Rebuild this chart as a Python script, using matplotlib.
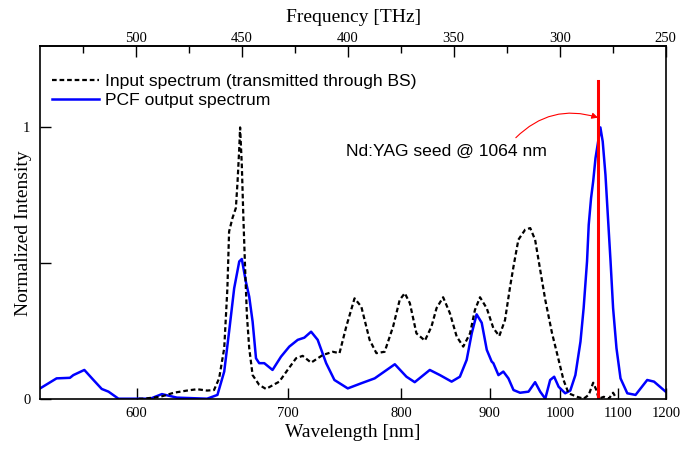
import numpy as np
import matplotlib
matplotlib.use("Agg")
import matplotlib.pyplot as plt

C_NM_THZ = 299792.458  # c in nm*THz

# PCF output spectrum (frequency THz, normalized intensity)
out_freq = [545.6, 537.4, 531.1, 529.5, 524.3, 520.0, 516.1, 512.9, 508.2, 493.2,
            487.7, 480.6, 466.4, 461.5, 458.3, 456.0, 453.6, 451.2, 450.0, 448.1,
            446.5, 444.9, 443.3, 441.8, 439.4, 435.5, 431.5, 427.6, 423.6, 420.5,
            417.3, 414.2, 410.2, 406.3, 400.0, 393.6, 387.3, 377.8, 372.3, 368.4,
            361.3, 356.5, 351.0, 347.1, 343.9, 341.5, 339.2, 336.8, 334.4, 332.1,
            331.3, 328.9, 326.6, 324.2, 321.8, 318.7, 314.7, 311.6, 309.2, 306.8,
            304.5, 302.6, 300.5, 297.4, 295.0, 292.6, 290.2, 288.7, 287.1, 286.3,
            285.2, 284.2, 283.1, 282.1, 280.8, 279.7, 278.4, 277.3, 276.0, 274.8,
            273.2, 271.3, 268.1, 264.2, 258.7, 255.5, 250.0]
out_int = [0.036, 0.075, 0.077, 0.087, 0.106, 0.069, 0.036, 0.026, 0.0, 0.0,
           0.017, 0.004, 0.0, 0.014, 0.100, 0.247, 0.407, 0.506, 0.515, 0.432,
           0.376, 0.284, 0.149, 0.131, 0.131, 0.106, 0.155, 0.192, 0.217, 0.225,
           0.247, 0.217, 0.131, 0.069, 0.038, 0.057, 0.075, 0.127, 0.081, 0.061,
           0.106, 0.087, 0.063, 0.081, 0.143, 0.241, 0.311, 0.280, 0.180, 0.137,
           0.131, 0.087, 0.100, 0.075, 0.032, 0.022, 0.026, 0.061, 0.026, 0.0,
           0.069, 0.081, 0.044, 0.020, 0.030, 0.087, 0.210, 0.334, 0.506, 0.641,
           0.739, 0.801, 0.887, 0.936, 1.0, 0.948, 0.825, 0.678, 0.506, 0.334,
           0.186, 0.075, 0.020, 0.014, 0.069, 0.063, 0.026]

# input spectrum (transmitted through BS)
in_freq = [498.6, 496.4, 488.5, 482.1, 475.9, 471.1, 466.4, 463.1, 460.7, 458.3,
           456.8, 456.0, 454.4, 452.8, 452.0, 451.2, 450.8, 450.0, 449.3, 448.5,
           447.6, 446.5, 444.9, 441.8, 438.6, 432.3, 428.4, 424.4, 421.3, 417.3,
           411.8, 407.1, 403.9, 400.7, 396.8, 393.6, 389.7, 386.5, 382.6, 378.6,
           375.5, 373.1, 370.7, 367.6, 363.6, 360.5, 358.1, 355.0, 351.8, 348.6,
           345.5, 342.3, 340.0, 337.6, 334.4, 331.3, 328.5, 325.8, 323.4, 321.8,
           319.5, 316.3, 313.9, 311.6, 309.2, 306.8, 303.6, 300.5, 298.2, 295.8,
           291.8, 288.7, 286.3, 284.2, 282.7, 281.6, 279.2, 276.8, 274.8, 273.2]
in_int = [0.0, 0.0, 0.007, 0.022, 0.030, 0.035, 0.030, 0.032, 0.075, 0.186,
          0.407, 0.616, 0.666, 0.703, 0.801, 0.924, 1.0, 0.862, 0.678, 0.493,
          0.309, 0.186, 0.087, 0.051, 0.036, 0.063, 0.106, 0.149, 0.158, 0.133,
          0.161, 0.173, 0.168, 0.266, 0.370, 0.339, 0.217, 0.168, 0.173, 0.266,
          0.364, 0.389, 0.352, 0.241, 0.214, 0.266, 0.334, 0.374, 0.315, 0.229,
          0.192, 0.241, 0.327, 0.374, 0.333, 0.260, 0.231, 0.290, 0.413, 0.487,
          0.586, 0.623, 0.629, 0.586, 0.475, 0.364, 0.241, 0.143, 0.069, 0.020,
          0.007, 0.0, 0.014, 0.059, 0.032, 0.0, 0.007, 0.0, 0.022, 0.0]

wl_ticks = [600, 700, 800, 900, 1000, 1100, 1200]
freq_ticks = [500, 450, 400, 350, 300, 250]
freq_minor = [525, 475, 425, 375, 325, 275]
wl_range = (550, 1200)
seed_wl = 1064
seed_top = 1.17

fig = plt.figure(figsize=(6.81, 4.49), dpi=100)
ax = fig.add_axes([0.0592, 0.112, 0.9188, 0.7855])

ax.plot(out_freq, out_int, color="blue", lw=1.8, label="PCF output spectrum")
ax.plot(in_freq, in_int, color="black", lw=1.6, dashes=(2.1, 1.3),
        label="Input spectrum (transmitted through BS)")
f_seed = C_NM_THZ / seed_wl
ax.plot([f_seed, f_seed], [0, seed_top], color="red", lw=2.2)

ax.set_xlim(C_NM_THZ / wl_range[0], C_NM_THZ / wl_range[1])
ax.set_ylim(0, 1.3)

serif = "Liberation Serif"
sans = "Liberation Sans"

ax.set_xticks([C_NM_THZ / w for w in wl_ticks])
ax.set_xticklabels([str(w) for w in wl_ticks], family=serif, fontsize=10.5)
ax.set_yticks([0, 0.5, 1])
ax.set_yticklabels(["0", "", "1"], family=serif, fontsize=10.5)
ax.tick_params(axis="x", direction="in", length=8, width=1, pad=6, top=False)
ax.tick_params(axis="y", direction="in", length=8, width=1, pad=7, right=False)

sec = ax.secondary_xaxis("top", functions=(lambda x: x, lambda x: x))
sec.set_xticks(freq_ticks)
sec.set_xticklabels([str(f) for f in freq_ticks], family=serif, fontsize=10.5)
sec.set_xticks(freq_minor, minor=True)
sec.tick_params(which="major", direction="in", length=8, width=1, pad=1)
sec.tick_params(which="minor", direction="in", length=5, width=1)
sec.set_xlabel("Frequency [THz]", family=serif, fontsize=14, labelpad=7)

ax.set_xlabel("Wavelength [nm]", family=serif, fontsize=14, labelpad=3)
ax.set_ylabel("Normalized Intensity", family=serif, fontsize=14)
ax.yaxis.set_label_coords(-0.0135, 0.469)

for s in ax.spines.values():
    s.set_linewidth(1.2)
sec.spines["top"].set_linewidth(1.2)

handles, labels = ax.get_legend_handles_labels()
ax.legend(handles[::-1], labels[::-1], loc="upper left",
          bbox_to_anchor=(0.019, 0.922), frameon=False, borderpad=0,
          borderaxespad=0, handlelength=2.7, handletextpad=0.3,
          labelspacing=0.25, prop={"family": sans, "size": 12.6})

ax.annotate("", xy=(281.9, 1.036), xytext=(320.7, 0.962),
            arrowprops=dict(arrowstyle="-|>", color="red", lw=0.8,
                            connectionstyle="arc3,rad=-0.3",
                            mutation_scale=9, shrinkA=0, shrinkB=0))
ax.text(400.7, 0.91, "Nd:YAG seed @ 1064 nm", family=sans, fontsize=12.6,
        ha="left", va="center")

fig.savefig("out.png", dpi=100)
